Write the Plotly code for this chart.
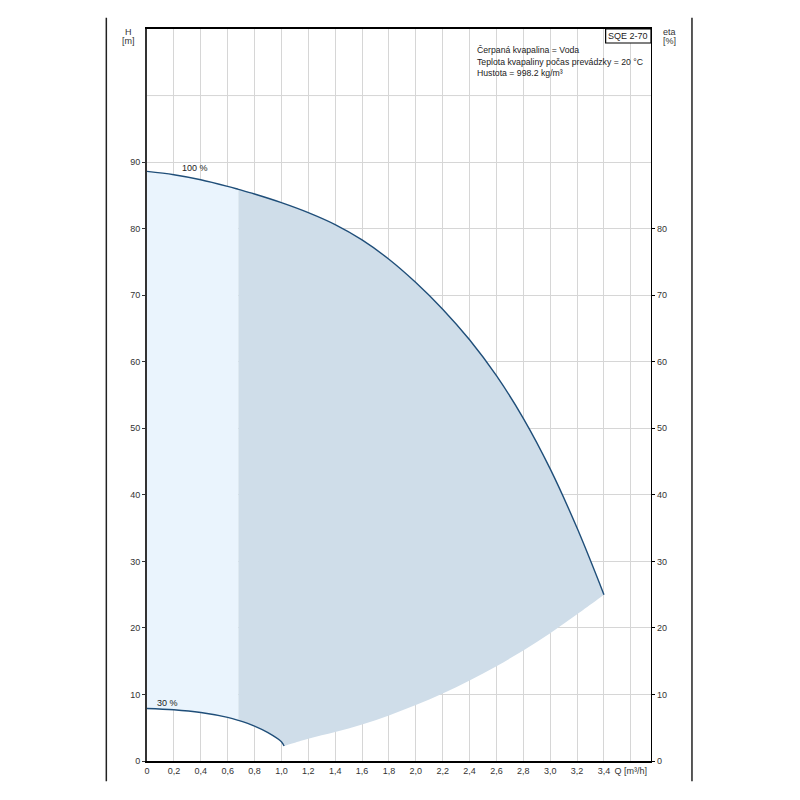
import plotly.graph_objects as go

# 100 % speed curve (Q in m3/h, H in m)
q100 = [0.0, 0.2, 0.4, 0.6, 0.68, 0.8, 1.0, 1.2, 1.4, 1.6, 1.8, 2.0, 2.2, 2.4, 2.6, 2.8, 3.0, 3.2, 3.4]
h100 = [88.6, 88.1, 87.35, 86.35, 85.9, 85.2, 83.9, 82.4, 80.6, 78.3, 75.4, 71.9, 67.9, 63.3, 57.9, 51.5, 43.9, 35.0, 25.0]

# 30 % speed curve
q30 = [0.0, 0.2, 0.4, 0.6, 0.68, 0.8, 0.9, 1.0, 1.02]
h30 = [7.9, 7.7, 7.28, 6.55, 6.1, 5.25, 4.26, 2.9, 2.25]

# lower boundary of operating range
qlow = [1.02, 1.2, 1.4, 1.6, 1.8, 2.0, 2.2, 2.4, 2.6, 2.8, 3.0, 3.2, 3.4]
hlow = [2.25, 3.35, 4.35, 5.5, 6.85, 8.4, 10.15, 12.1, 14.25, 16.6, 19.2, 22.05, 25.0]

qsplit = 0.68

x_tickvals = [0.0, 0.2, 0.4, 0.6, 0.8, 1.0, 1.2, 1.4, 1.6, 1.8, 2.0, 2.2, 2.4, 2.6, 2.8, 3.0, 3.2, 3.4, 3.6]
x_ticktext = ["0", "0,2", "0,4", "0,6", "0,8", "1,0", "1,2", "1,4", "1,6", "1,8", "2,0",
              "2,2", "2,4", "2,6", "2,8", "3,0", "3,2", "3,4", "Q [m³/h]"]
h_ticks = [0, 10, 20, 30, 40, 50, 60, 70, 80, 90]
eta_ticks = [0, 10, 20, 30, 40, 50, 60, 70, 80]

info_lines = ["Čerpaná kvapalina = Voda",
              "Teplota kvapaliny počas prevádzky = 20 °C",
              "Hustota = 998.2 kg/m³"]
title_box = "SQE 2-70"

LIGHT = "rgb(234,244,253)"
DARK = "rgb(207,221,233)"
LINE = "#1f4e79"
FONT = "Liberation Sans, Arial, sans-serif"

fig = go.Figure()

# light region (0 .. qsplit)
lx = [q for q in q100 if q <= qsplit]
ly = [h for q, h in zip(q100, h100) if q <= qsplit]
bx = [q for q in q30 if q <= qsplit][::-1]
by = [h for q, h in zip(q30, h30) if q <= qsplit][::-1]
fig.add_trace(go.Scatter(x=lx + bx, y=ly + by, fill="toself", fillcolor=LIGHT,
                         mode="none", hoverinfo="skip", showlegend=False))

# dark region (qsplit .. end)
ux = [q for q in q100 if q >= qsplit]
uy = [h for q, h in zip(q100, h100) if q >= qsplit]
wx = qlow[::-1]
wy = hlow[::-1]
cx = [q for q in q30 if q >= qsplit][::-1]
cy = [h for q, h in zip(q30, h30) if q >= qsplit][::-1]
fig.add_trace(go.Scatter(x=ux + wx + cx, y=uy + wy + cy, fill="toself", fillcolor=DARK,
                         mode="none", line_shape="spline", hoverinfo="skip", showlegend=False))

# curves
fig.add_trace(go.Scatter(x=q100, y=h100, mode="lines", line=dict(color=LINE, width=1.4),
                         line_shape="spline", showlegend=False))
fig.add_trace(go.Scatter(x=q30, y=h30, mode="lines", line=dict(color=LINE, width=1.4),
                         line_shape="spline", showlegend=False))
# dummy for right axis
fig.add_trace(go.Scatter(x=[0], y=[0], yaxis="y2", mode="markers", marker=dict(opacity=0),
                         hoverinfo="skip", showlegend=False))

tickfont = dict(family=FONT, size=9, color="#333")

fig.update_layout(
    width=800, height=800,
    margin=dict(l=139, r=156.7, t=21, b=46.6),
    paper_bgcolor="white", plot_bgcolor="white",
    font=dict(family=FONT, size=9, color="#333"),
    xaxis=dict(range=[0, 3.75], tickvals=x_tickvals, ticktext=x_ticktext,
               showgrid=True, gridcolor="#d6d6d6", gridwidth=1, zeroline=False,
               showline=True, linecolor="black", linewidth=1.5, mirror=True,
               ticks="", tickfont=tickfont),
    yaxis=dict(range=[0, 110], tickvals=h_ticks, showgrid=True, gridcolor="#d6d6d6",
               gridwidth=1, zeroline=False, showline=True, linecolor="#333",
               linewidth=2, ticks="outside", ticklen=3, tickcolor="#333",
               tickfont=tickfont),
    yaxis2=dict(range=[0, 110], overlaying="y", side="right", tickvals=eta_ticks,
                showgrid=False, zeroline=False, showline=True, linecolor="black",
                linewidth=1.2, ticks="outside", ticklen=3, tickcolor="black",
                tickfont=tickfont),
)

# gridline at H = 100
fig.add_shape(type="line", xref="paper", yref="y", x0=0, x1=1, y0=100, y1=100,
              line=dict(color="#d6d6d6", width=1), layer="below")

# page borders
for px in (-0.0807, 1.0813):
    fig.add_shape(type="line", xref="paper", yref="paper", x0=px, x1=px,
                  y0=-0.0277, y1=1.0154, line=dict(color="#222", width=1.5))

# SQE box
fig.add_shape(type="rect", xref="paper", yref="paper", x0=0.910, x1=1.0,
              y0=0.9809, y1=1.0, line=dict(color="black", width=1.2), fillcolor="white")
fig.add_annotation(xref="paper", yref="paper", x=0.955, y=0.9905, text=title_box,
                   showarrow=False, xanchor="center", yanchor="middle",
                   font=dict(family=FONT, size=9, color="#222"))

# info text
for i, t in enumerate(info_lines):
    fig.add_annotation(xref="paper", yref="paper", x=0.651, y=0.9707 - i * 0.0157,
                       text=t, showarrow=False, xanchor="left", yanchor="middle",
                       font=dict(family=FONT, size=8.7, color="#222"))

# axis titles
for txt, xx, yy in (("H", -0.0367, 0.9963), ("[m]", -0.0367, 0.9840),
                    ("eta", 1.0376, 0.9954), ("[%]", 1.0376, 0.9840)):
    fig.add_annotation(xref="paper", yref="paper", x=xx, y=yy, text=txt,
                       showarrow=False, xanchor="center", yanchor="middle",
                       font=dict(family=FONT, size=9, color="#333"))

# curve labels
fig.add_annotation(x=0.36, y=89.1, text="100 %", showarrow=False,
                   xanchor="center", yanchor="middle",
                   font=dict(family=FONT, size=9, color="#222"))
fig.add_annotation(x=0.155, y=8.7, text="30 %", showarrow=False,
                   xanchor="center", yanchor="middle",
                   font=dict(family=FONT, size=9, color="#222"))

fig.write_html("out.html")
